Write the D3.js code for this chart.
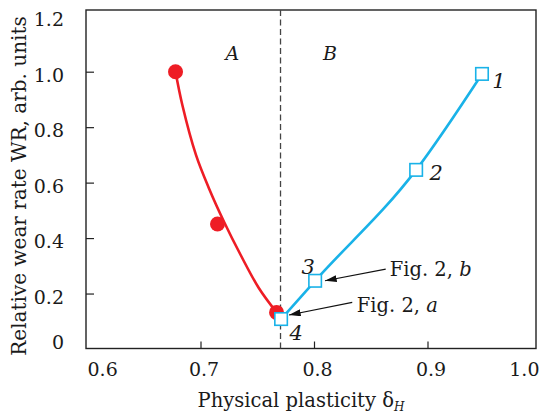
<!DOCTYPE html>
<html>
<head>
<meta charset="utf-8">
<script src="https://cdn.jsdelivr.net/npm/d3@7"></script>
<style>
  body { margin: 0; background: #fff; }
  svg text { font-family: "DejaVu Serif", serif; fill: #1a1a1a; }
</style>
</head>
<body>
<svg width="541" height="413"></svg>
<script>
// measured points (zone A, red circles)
const redX = [0.678, 0.715, 0.767];
const redY = [1.0, 0.451, 0.132];

// fitted curve through zone A
const fitX = [0.678, 0.684, 0.696, 0.7075, 0.7207, 0.7354, 0.7515, 0.767];
const fitY = [1.0, 0.880, 0.700, 0.579, 0.459, 0.339, 0.219, 0.132];

// zone B, blue squares
const blueX = [0.948, 0.890, 0.801, 0.771];
const blueY = [0.992, 0.646, 0.246, 0.108];
const blueLabels = ['1', '2', '3', '4'];

const xTicks = [0.6, 0.7, 0.8, 0.9, 1.0];
const yTicks = [0, 0.2, 0.4, 0.6, 0.8, 1.0, 1.2];
const boundaryX = 0.7705;

const notes = ['Fig. 2, b', 'Fig. 2, a'];
const noteLetters = ['b', 'a'];

document.addEventListener('DOMContentLoaded', () => {
    const svg = d3.select('svg');
    const left = 86, top = 10, right = 536, bottom = 348.5;

    const x = d3.scaleLinear().domain([0.6, 1.0]).range([87, 541]);
    const y = d3.scaleLinear().domain([0, 1.0]).range([349, 71.7]);

    const red = '#ee1d25', blue = '#19b2e8';

    // arrow marker
    svg.append('defs').append('marker')
        .attr('id', 'arr')
        .attr('viewBox', '0 0 10 6')
        .attr('refX', 10).attr('refY', 3)
        .attr('markerWidth', 12).attr('markerHeight', 7)
        .attr('markerUnits', 'userSpaceOnUse')
        .attr('orient', 'auto')
        .append('path').attr('d', 'M0,0 L10,3 L0,6 Z').attr('fill', '#111');

    // y axis ticks (inward)
    const yAxis = d3.axisLeft(y).tickValues(yTicks)
        .tickSizeInner(-8).tickSizeOuter(0).tickPadding(22)
        .tickFormat(d => d === 0 ? '0' : d3.format('.1f')(d));
    const gy = svg.append('g').attr('transform', `translate(${left},0)`).call(yAxis);
    gy.select('.domain').remove();
    gy.selectAll('.tick line').attr('stroke', '#222').attr('stroke-width', 1.2)
        .filter(d => d === 0 || d === 1.2).remove();
    gy.selectAll('.tick text')
        .attr('font-size', 19).attr('fill', '#1a1a1a')
        .attr('font-family', '"DejaVu Serif", serif')
        .attr('dy', d => d === 0 ? '-0.05em' : '0.5em');

    // x axis ticks (inward)
    const xAxis = d3.axisBottom(x).tickValues(xTicks)
        .tickSizeInner(-7).tickSizeOuter(0).tickPadding(14)
        .tickFormat(d3.format('.1f'));
    const gx = svg.append('g').attr('transform', `translate(0,${bottom})`).call(xAxis);
    gx.select('.domain').remove();
    gx.selectAll('.tick line').attr('stroke', '#222').attr('stroke-width', 1.2)
        .filter(d => d === 0.6 || d === 1.0).remove();
    gx.selectAll('.tick text')
        .attr('font-size', 19).attr('fill', '#1a1a1a')
        .attr('font-family', '"DejaVu Serif", serif')
        .attr('dx', 3)
        .attr('text-anchor', d => d === 0.6 ? 'start' : d === 1.0 ? 'end' : 'middle');
    gx.selectAll('.tick text').filter(d => d === 0.6 || d === 1.0).attr('dx', d => d === 1.0 ? -2 : 0);

    // frame
    svg.append('rect')
        .attr('x', left).attr('y', top)
        .attr('width', right - left).attr('height', bottom - top)
        .attr('fill', 'none').attr('stroke', '#222').attr('stroke-width', 1.4);

    // boundary between A and B
    svg.append('line')
        .attr('x1', x(boundaryX)).attr('x2', x(boundaryX))
        .attr('y1', top).attr('y2', bottom)
        .attr('stroke', '#444').attr('stroke-width', 1.3)
        .attr('stroke-dasharray', '6,3.5');

    svg.append('text').attr('x', x(0.728)).attr('y', y(1.066)).attr('dy', '0.35em')
        .attr('text-anchor', 'middle').attr('font-size', 19).attr('font-style', 'italic').text('A');
    svg.append('text').attr('x', x(0.814)).attr('y', y(1.066)).attr('dy', '0.35em')
        .attr('text-anchor', 'middle').attr('font-size', 19).attr('font-style', 'italic').text('B');

    // red fit curve
    const fit = fitX.map((v, i) => [v, fitY[i]]);
    svg.append('path')
        .attr('d', d3.line().x(d => x(d[0])).y(d => y(d[1])).curve(d3.curveCatmullRom)(fit))
        .attr('fill', 'none').attr('stroke', red).attr('stroke-width', 2.6);

    svg.selectAll('circle.pt')
        .data(redX.map((v, i) => [v, redY[i]]))
        .enter().append('circle')
        .attr('class', 'pt')
        .attr('cx', d => x(d[0])).attr('cy', d => y(d[1]))
        .attr('r', 7.5).attr('fill', red);

    // blue line + squares
    const bl = blueX.map((v, i) => [v, blueY[i]]).sort((a, b) => a[0] - b[0]);
    svg.append('path')
        .attr('d', d3.line().x(d => x(d[0])).y(d => y(d[1])).curve(d3.curveMonotoneX)(bl))
        .attr('fill', 'none').attr('stroke', blue).attr('stroke-width', 2.6);

    const sq = 12.5;
    svg.selectAll('rect.sq')
        .data(blueX.map((v, i) => [v, blueY[i]]))
        .enter().append('rect')
        .attr('class', 'sq')
        .attr('x', d => x(d[0]) - sq / 2).attr('y', d => y(d[1]) - sq / 2)
        .attr('width', sq).attr('height', sq)
        .attr('fill', '#fff').attr('stroke', blue).attr('stroke-width', 1.6);

    const labOff = [[17, 7], [20, 3], [-7, -14], [15, 13]];
    svg.selectAll('text.num')
        .data(blueLabels)
        .enter().append('text')
        .attr('class', 'num')
        .attr('x', (d, i) => x(blueX[i]) + labOff[i][0])
        .attr('y', (d, i) => y(blueY[i]) + labOff[i][1])
        .attr('dy', '0.36em')
        .attr('text-anchor', 'middle')
        .attr('font-size', 21).attr('font-style', 'italic')
        .text(d => d);

    // annotation arrows: [startX, startY, tipX, tipY] in data units
    const arrows = [[0.8632, 0.288, 0.8097, 0.246], [0.8337, 0.168, 0.778, 0.1226]];
    svg.selectAll('line.arr')
        .data(arrows)
        .enter().append('line')
        .attr('class', 'arr')
        .attr('x1', d => x(d[0])).attr('y1', d => y(d[1]))
        .attr('x2', d => x(d[2])).attr('y2', d => y(d[3]))
        .attr('stroke', '#111').attr('stroke-width', 1.1)
        .attr('marker-end', 'url(#arr)');

    const noteXY = [[0.8667, 0.263], [0.8377, 0.134]];
    notes.forEach((n, i) => {
        const t = svg.append('text')
            .attr('x', x(noteXY[i][0])).attr('y', y(noteXY[i][1]))
            .attr('font-size', 19.5);
        t.append('tspan').text(n.slice(0, -1));
        t.append('tspan').attr('font-style', 'italic').text(noteLetters[i]);
    });

    // axis titles
    const xt = svg.append('text')
        .attr('x', 301).attr('y', 407)
        .attr('text-anchor', 'middle').attr('font-size', 19.5);
    xt.append('tspan').text('Physical plasticity \u03b4');
    xt.append('tspan').attr('font-size', 12).attr('font-style', 'italic').attr('dy', 4).text('H');

    svg.append('text')
        .attr('transform', 'translate(26,186) rotate(-90)')
        .attr('text-anchor', 'middle').attr('font-size', 20)
        .text('Relative wear rate WR, arb. units');
});
</script>
</body>
</html>
